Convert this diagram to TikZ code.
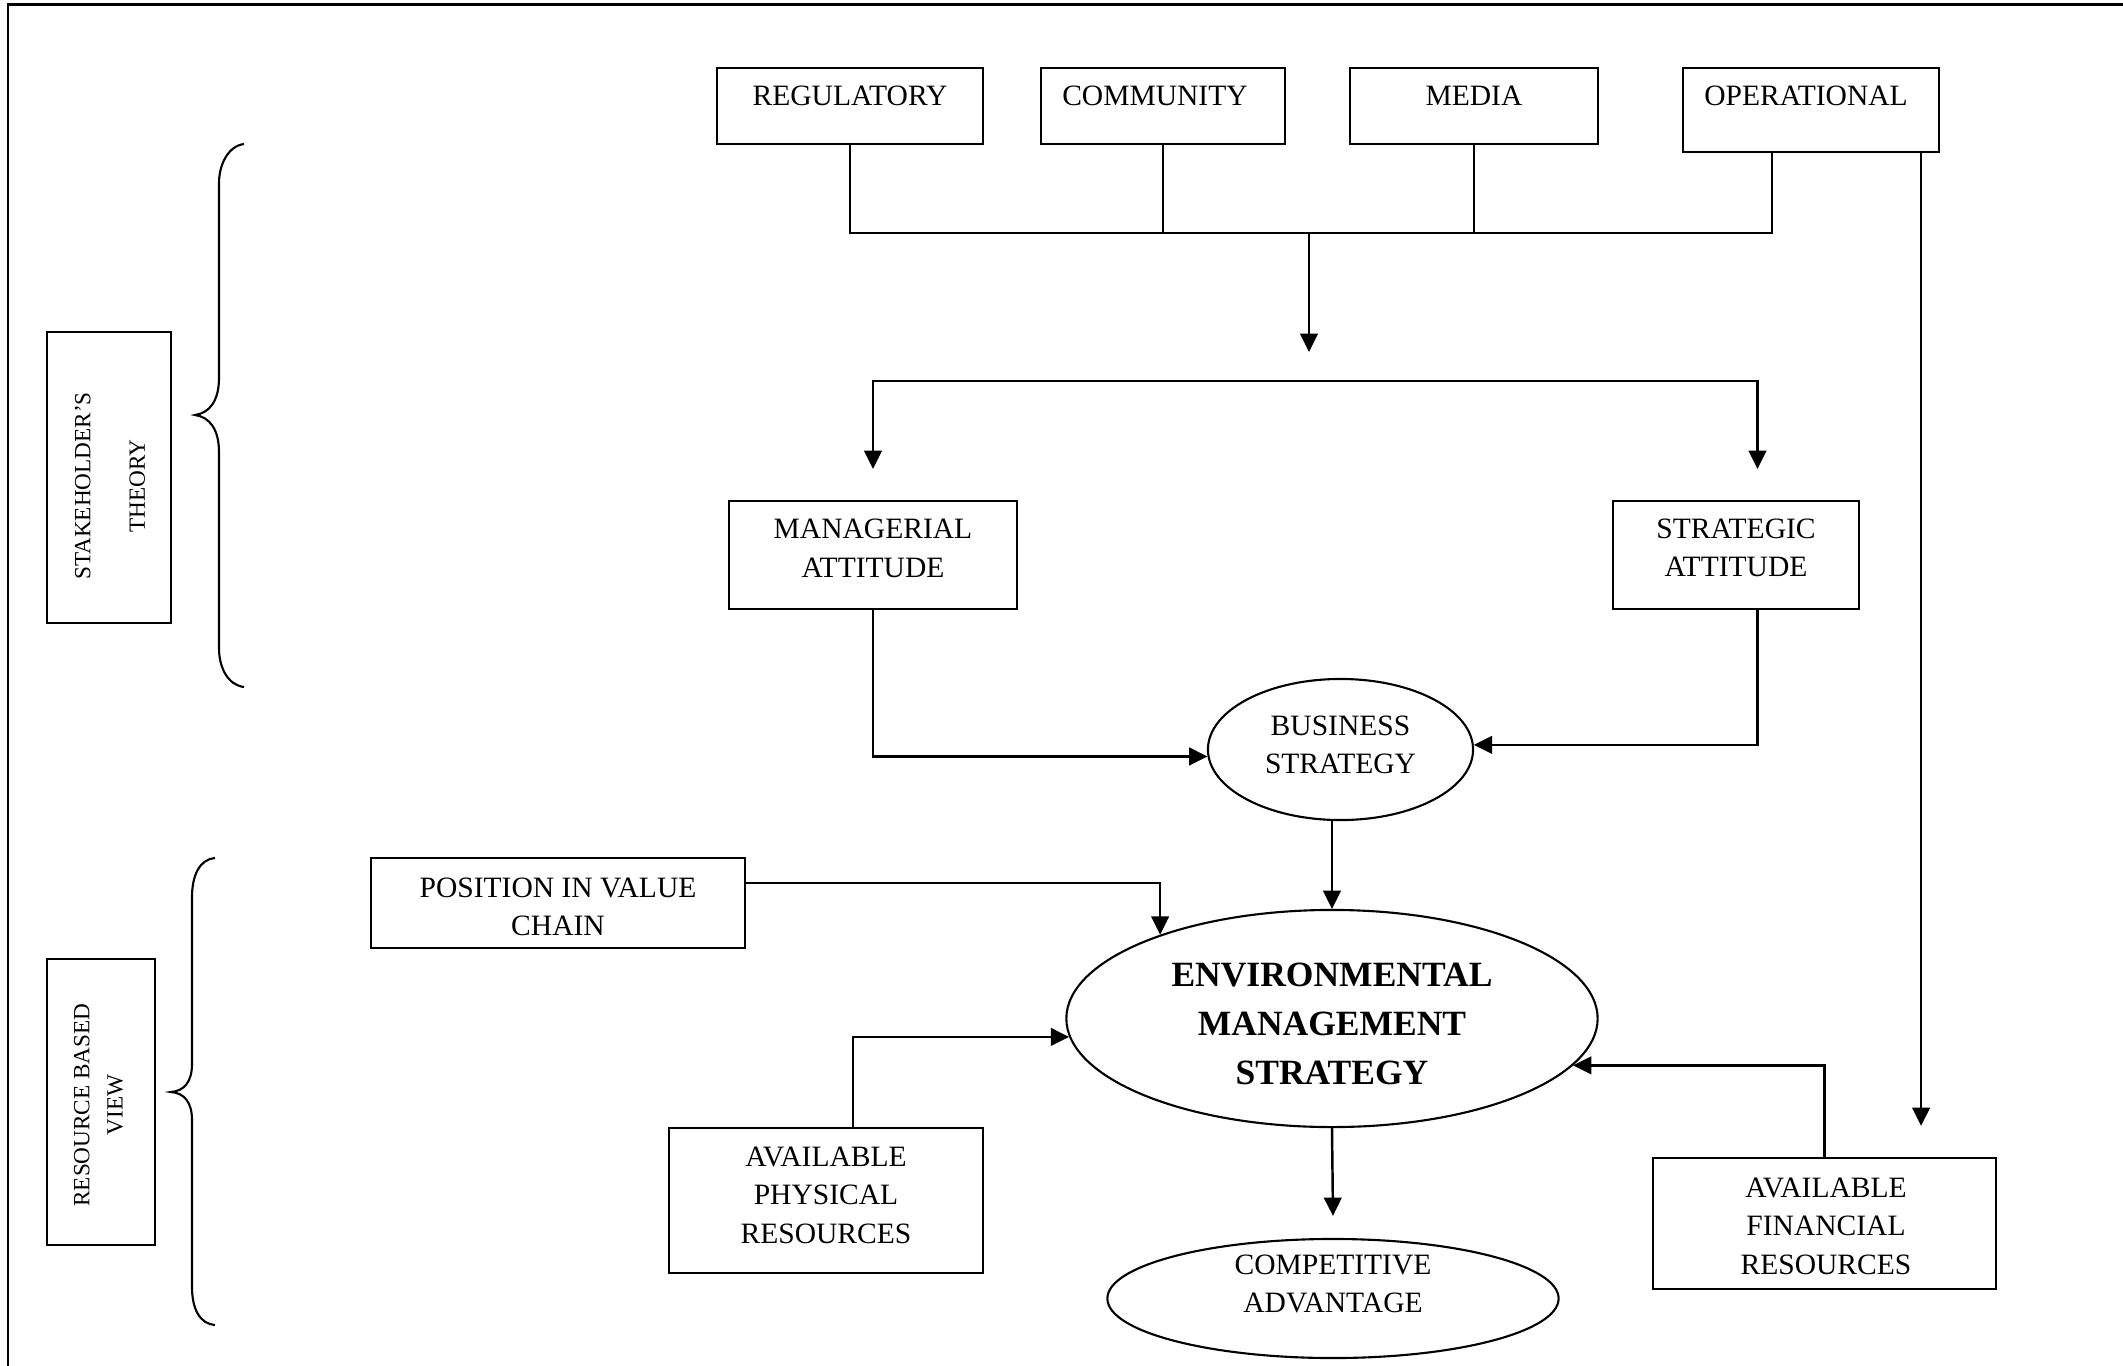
\documentclass[tikz,border=0pt]{standalone}
\usepackage{fontspec}
\setmainfont{Liberation Serif}
\usetikzlibrary{arrows.meta,shapes.geometric}
\begin{document}
\begin{tikzpicture}[x=0.01cm,y=-0.01cm,
  every node/.style={font=\fontsize{8.4pt}{10.95pt}\selectfont, align=center},
  box/.style={draw, line width=0.6pt, rectangle, inner sep=0pt},
  oval/.style={draw, line width=0.6pt, ellipse, inner sep=0pt},
  conn/.style={line width=0.7pt},
  arr/.style={conn, -{Triangle[length=5.2pt,width=5pt]}},
  brace/.style={line width=0.6pt},
  boldtxt/.style={font=\fontsize{10.1pt}{14pt}\selectfont\bfseries}
]
\useasboundingbox (0,0) rectangle (2123,1366);
\draw[line width=0.85pt] (8,1366) -- (8,4) -- (2123,4);

% ---- shapes ----
\node[box, minimum width=2.66cm, minimum height=0.76cm] (reg) at (850,106) {};
\node[box, minimum width=2.44cm, minimum height=0.76cm] (com) at (1163,106) {};
\node[box, minimum width=2.48cm, minimum height=0.76cm] (media) at (1474,106) {};
\node[box, minimum width=2.56cm, minimum height=0.84cm] (oper) at (1811,110) {};
\node[box, minimum width=2.885cm, minimum height=1.08cm] (man) at (873,555) {};
\node[box, minimum width=2.46cm, minimum height=1.08cm] (strat) at (1736,555) {};
\node[oval, minimum width=2.65cm, minimum height=1.41cm] (bs) at (1340.5,749.5) {};
\node[oval, minimum width=5.31cm, minimum height=2.17cm] (ems) at (1332,1018.5) {};
\node[oval, minimum width=4.51cm, minimum height=1.19cm] (comp) at (1333,1298.5) {};
\node[box, minimum width=3.74cm, minimum height=0.90cm] (pos) at (558,903) {};
\node[box, minimum width=3.14cm, minimum height=1.45cm] (phys) at (826,1200.5) {};
\node[box, minimum width=3.43cm, minimum height=1.31cm] (fin) at (1824.5,1223.5) {};
\node[box, minimum width=1.24cm, minimum height=2.91cm] (stake) at (109,477.5) {};
\node[box, minimum width=1.08cm, minimum height=2.86cm] (rbv) at (101,1102) {};

% ---- texts ----
\node (reg-t) at (850,96) {REGULATORY};
\node (com-t) at (1155,96) {COMMUNITY};
\node (media-t) at (1474,96) {MEDIA};
\node (oper-t) at (1806,96) {OPERATIONAL};
\node (man-t) at (873,548.5) {MANAGERIAL\\ATTITUDE};
\node (strat-t) at (1736,548) {STRATEGIC\\ATTITUDE};
\node (bs-t) at (1340.5,745) {BUSINESS\\STRATEGY};
\node[boldtxt] (ems-t) at (1332,1024) {ENVIRONMENTAL\\MANAGEMENT\\STRATEGY};
\node (comp-t) at (1333,1284) {COMPETITIVE\\ADVANTAGE};
\node (pos-t) at (558,907) {POSITION IN VALUE\\CHAIN};
\node (phys-t) at (826,1195) {AVAILABLE\\PHYSICAL\\RESOURCES};
\node (fin-t) at (1826,1226) {AVAILABLE\\FINANCIAL\\RESOURCES};
\node[rotate=90, font=\fontsize{6.6pt}{15.5pt}\selectfont] (stake-t) at (110,486) {STAKEHOLDER’S\\THEORY};
\node[rotate=90, font=\fontsize{6.6pt}{9.4pt}\selectfont] (rbv-t) at (98.5,1105) {RESOURCE BASED\\VIEW};

% ---- braces ----
\draw[brace] (244,144) .. controls (228,146) and (219,165) .. (219,183) -- (219,378)
  .. controls (219,400) and (210,413) .. (195,415)
  .. controls (210,417) and (219,430) .. (219,452) -- (219,648)
  .. controls (219,668) and (228,685) .. (244,687);
\draw[brace] (215,858) .. controls (200,859) and (192,875) .. (192,897) -- (192,1064)
  .. controls (192,1082) and (184,1091) .. (171,1092)
  .. controls (184,1093) and (192,1102) .. (192,1120) -- (192,1287)
  .. controls (192,1309) and (200,1324) .. (215,1325);

% ---- connectors ----
\coordinate (bus) at (1309,233);
\coordinate (busend) at (1309,352);
\coordinate (split) at (1309,381);
\coordinate (operstub) at ([xshift=-0.39cm]oper.south);
\coordinate (mantip) at ([yshift=0.31cm]man.north);
\coordinate (strattop) at ([xshift=0.215cm]strat.north);
\coordinate (strattip) at ([yshift=0.31cm]strattop);
\coordinate (stratbot) at ([xshift=0.215cm]strat.south);
\coordinate (operdown) at ([xshift=1.1cm]oper.south);
\coordinate (finup) at ([yshift=0.31cm]fin.north);
\coordinate (comptip) at ([yshift=0.22cm]comp.north);
\coordinate (posout) at ([yshift=0.2cm]pos.east);
\coordinate (physout) at ([xshift=0.27cm]phys.north);

\draw[conn] (reg.south) -- (reg.south |- bus) -- (operstub |- bus) -- (operstub);
\draw[conn] (com.south) -- (com.south |- bus);
\draw[conn] (media.south) -- (media.south |- bus);
\draw[arr] (bus) -- (busend);
\draw[arr] (split) -| (mantip);
\draw[arr] (split) -| (strattip);
\draw[arr] (man.south) |- (bs.183.3);
\draw[arr] (stratbot) |- (bs.2.8);
\draw[arr] (bs.south -| ems.north) -- (ems.north);
\draw[arr] (ems.south) -- (comptip);
\draw[arr] (posout) -| (ems.154.4);
\draw[arr] (physout) |- (ems.184.2);
\draw[arr] (fin.north) |- (ems.349.7);
\draw[arr] (operdown) -- (operdown |- finup);
\end{tikzpicture}
\end{document}
